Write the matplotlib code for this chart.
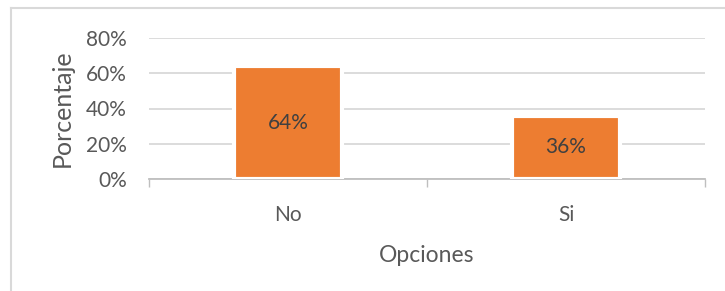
import matplotlib
matplotlib.use("Agg")
import matplotlib.pyplot as plt
from matplotlib.lines import Line2D
from matplotlib.ticker import PercentFormatter

categories = ["No", "Si"]
values = [0.64, 0.36]
labels = ["64%", "36%"]
yticks = [0, 0.2, 0.4, 0.6, 0.8]

plt.rcParams['font.family'] = ['Lato', 'DejaVu Sans']
FS = 15
TXT = '#595959'

fig = plt.figure(figsize=(7.25, 2.91), dpi=100)
ax = fig.add_axes([149/725, 1-179/291, (705-149)/725, (179-38)/291])

x = [0, 1]
bars = ax.bar(x, values, width=0.39, color='#ED7D31', edgecolor='white', linewidth=3, zorder=3)
for b, lab in zip(bars, labels):
    ax.text(b.get_x()+b.get_width()/2, b.get_height()/2, lab, ha='center', va='center',
            fontsize=FS, color='#404040', zorder=4)

ax.set_xlim(-0.5, 1.5)
ax.set_ylim(0, 0.8)
ax.set_yticks(yticks)
ax.yaxis.set_major_formatter(PercentFormatter(1.0, decimals=0))
ax.set_xticks([-0.5, 0.5, 1.5])
ax.set_xticklabels([])
ax.set_xticks(x, minor=True)
ax.set_xticklabels(categories, minor=True)
ax.tick_params(axis='x', which='major', length=6, color='#bfbfbf', width=1)
ax.tick_params(axis='x', which='minor', length=0, pad=19, labelsize=FS, labelcolor=TXT)
ax.tick_params(axis='y', length=0, pad=16, labelsize=FS, labelcolor=TXT)
ax.grid(axis='y', color='#d9d9d9', linewidth=1.3, zorder=0)
for s in ['top', 'right', 'left']:
    ax.spines[s].set_visible(False)
ax.spines['bottom'].set_color('#bfbfbf')
ax.spines['bottom'].set_linewidth(1.3)
ax.set_axisbelow(True)

ax.set_xlabel("Opciones", fontsize=16.5, color=TXT, labelpad=14)
ax.set_ylabel("Porcentaje", fontsize=18, color=TXT)
ax.yaxis.set_label_coords(-0.135, 0.5)

# outer chart frame
fig.add_artist(Line2D([11/725, 11/725], [0, 1-8/291], color='#d9d9d9', linewidth=1.5))
fig.add_artist(Line2D([11/725, 1], [1-8/291, 1-8/291], color='#d9d9d9', linewidth=1.5))

fig.savefig("out.png", dpi=100)
